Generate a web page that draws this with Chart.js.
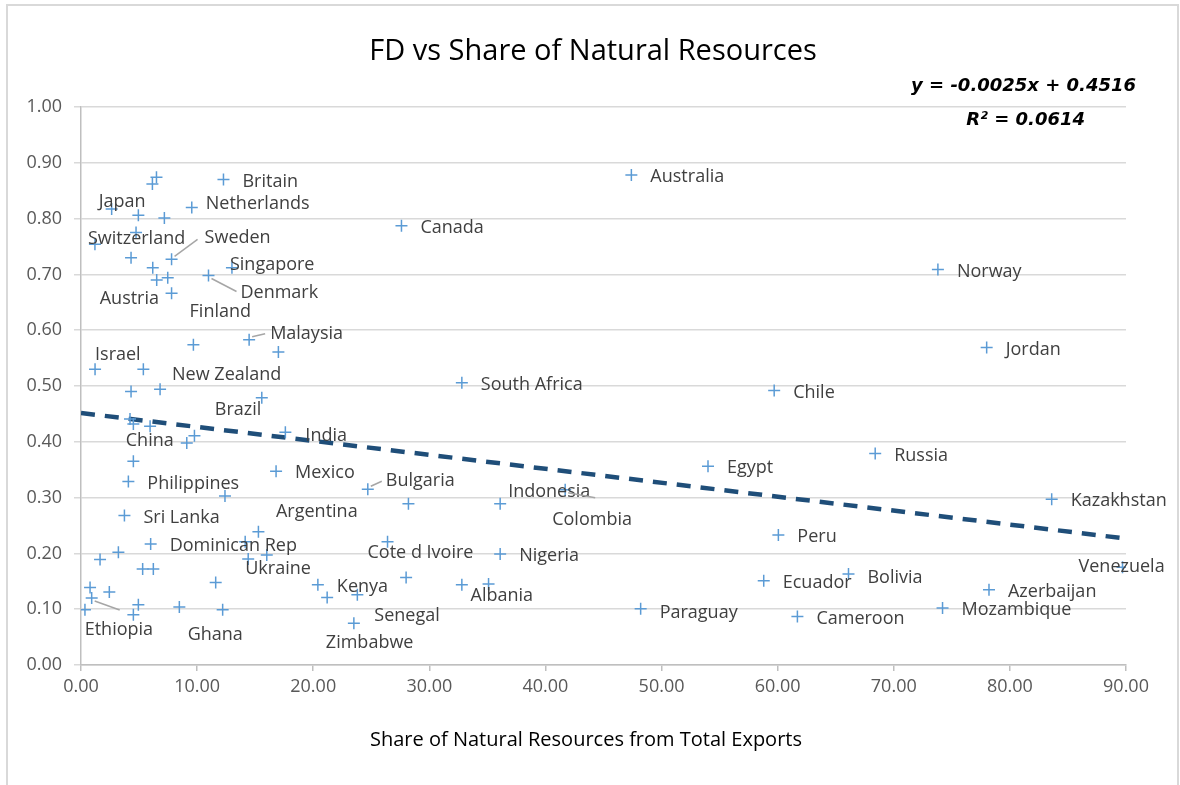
<!DOCTYPE html>
<html>
<head>
<meta charset="utf-8">
<script src="https://cdn.jsdelivr.net/npm/chart.js@4"></script>
<style>
  body { margin: 0; background: #fff; }
  #wrap { position: relative; width: 1180px; height: 785px; overflow: hidden; }
  #frame { position: absolute; left: 6px; top: 4px; width: 1169px; height: 820px;
           border: 2px solid #d9d9d9; pointer-events: none; }
</style>
</head>
<body>
<div id="wrap">
  <canvas id="fdChart" width="1180" height="785"></canvas>
  <div id="frame"></div>
</div>
<script>
// country labels ('' = unlabelled point)
const countries = [
  '', '', 'Britain', 'Japan', '', '', 'Netherlands', '', 'Switzerland', '',
  'Sweden', '', 'Singapore', 'Denmark', 'Austria', '', 'Finland', '', 'Malaysia', '',
  'Israel', '', '', 'New Zealand', 'Brazil', '', '', '', '', 'China',
  'India', '', 'Philippines', 'Mexico', 'Bulgaria', 'Argentina', 'Sri Lanka', '', '', 'Dominican Rep',
  '', '', '', 'Ukraine', '', '', '', '', '', 'Ethiopia',
  '', '', '', '', 'Ghana', 'Kenya', '', 'Senegal', 'Zimbabwe', '',
  'Indonesia', 'Colombia', 'Cote d Ivoire', 'Nigeria', '', '', 'Albania', 'Canada', 'Australia', 'South Africa',
  'Chile', 'Egypt', 'Russia', 'Peru', 'Ecuador', 'Bolivia', 'Cameroon', 'Mozambique', 'Azerbaijan', 'Norway',
  'Jordan', 'Kazakhstan', 'Venezuela', 'Paraguay'
];

// share of natural resources in total exports (%)
const resourceShare = [
  6.5, 6.15, 12.27, 2.64, 4.94, 7.18, 9.54, 4.74, 1.2, 4.31,
  7.8, 6.18, 13.0, 10.98, 6.52, 7.47, 7.8, 9.68, 14.48, 17.0,
  1.21, 5.37, 4.31, 6.81, 15.57, 4.22, 4.51, 5.95, 9.77, 9.11,
  17.6, 4.51, 4.08, 16.8, 24.7, 12.4, 3.74, 15.28, 14.14, 6.0,
  3.22, 1.64, 16.0, 14.4, 5.31, 6.23, 11.6, 0.78, 2.44, 0.92,
  4.94, 4.51, 0.34, 8.47, 12.2, 20.4, 21.2, 23.8, 23.5, 28.2,
  36.1, 41.7, 26.4, 36.1, 28.0, 32.8, 35.1, 27.6, 47.4, 32.8,
  59.7, 54.0, 68.4, 60.06, 58.8, 66.1, 61.7, 74.2, 78.2, 73.8,
  78.0, 83.6, 89.7, 48.2
];

// financial development index
const fdIndex = [
  0.874, 0.862, 0.870, 0.817, 0.806, 0.801, 0.820, 0.775, 0.754, 0.730,
  0.727, 0.712, 0.712, 0.698, 0.690, 0.694, 0.666, 0.574, 0.583, 0.561,
  0.530, 0.530, 0.490, 0.494, 0.479, 0.441, 0.432, 0.428, 0.411, 0.398,
  0.417, 0.365, 0.329, 0.347, 0.315, 0.303, 0.268, 0.239, 0.221, 0.217,
  0.202, 0.189, 0.197, 0.190, 0.172, 0.172, 0.148, 0.139, 0.131, 0.120,
  0.108, 0.090, 0.099, 0.104, 0.099, 0.144, 0.121, 0.126, 0.075, 0.289,
  0.289, 0.314, 0.221, 0.199, 0.157, 0.144, 0.145, 0.787, 0.878, 0.506,
  0.492, 0.356, 0.379, 0.233, 0.151, 0.163, 0.087, 0.102, 0.135, 0.709,
  0.569, 0.297, 0.175, 0.101
];

// linear trend end points (from the fitted equation shown)
const trendX = [0, 90];
const trendY = [0.4516, 0.2266];

const yTicks = [0, 0.1, 0.2, 0.3, 0.4, 0.5, 0.6, 0.7, 0.8, 0.9, 1.0];

// label placement tweaks [dx, dy, leaderEndDx, leaderEndDy]
const labelOffsets = {
  'Japan': [-13, -7], 'Netherlands': [14, -4], 'Switzerland': [-7, -5],
  'Sweden': [33, -21, 26, -20], 'Singapore': [-2, -3], 'Denmark': [32, 17, 28, 16],
  'Austria': [-57, 19], 'Finland': [18, 19], 'Malaysia': [21, -6, 16, -6],
  'Israel': [0, -14], 'New Zealand': [12, -14], 'Brazil': [-47, 12],
  'China': [-61, -2], 'India': [20, 4], 'Bulgaria': [18, -8, 14, -8],
  'Argentina': [51, 16], 'Ukraine': [-3, 10], 'Ethiopia': [-7, 32, 28, 12],
  'Ghana': [-35, 25], 'Senegal': [17, 21], 'Zimbabwe': [-28, 20],
  'Indonesia': [8, -12], 'Colombia': [-13, 30, 30, 8], 'Cote d Ivoire': [-20, 11],
  'Albania': [-18, 12], 'Venezuela': [-44, 0], 'Bolivia': [19, 4], 'Paraguay': [19, 4]
};

const points = resourceShare.map((x, i) => ({ x: x, y: fdIndex[i], name: countries[i] }));
const trend = trendX.map((x, i) => ({ x: x, y: trendY[i] }));

const textPlugin = {
  id: 'texts',
  afterDatasetsDraw(chart) {
    const ctx = chart.ctx;
    const meta = chart.getDatasetMeta(0);
    ctx.save();
    ctx.font = '18px "Open Sans"';
    ctx.fillStyle = '#404040';
    ctx.textBaseline = 'middle';
    ctx.textAlign = 'left';
    meta.data.forEach((el, i) => {
      const name = points[i].name;
      if (!name) return;
      const off = labelOffsets[name] || [19, 2];
      const lx = el.x + off[0], ly = el.y + off[1];
      if (off.length > 2) {
        ctx.strokeStyle = '#a6a6a6';
        ctx.lineWidth = 1.5;
        ctx.beginPath();
        ctx.moveTo(el.x + Math.sign(off[2]) * 3, el.y + Math.sign(off[3]) * 3);
        ctx.lineTo(el.x + off[2], el.y + off[3]);
        ctx.stroke();
      }
      ctx.fillText(name, lx, ly);
    });

    // title, axis title, equation
    ctx.fillStyle = '#000';
    ctx.textAlign = 'center';
    ctx.font = '29px "Open Sans"';
    ctx.fillText('FD vs Share of Natural Resources', 593, 52);
    ctx.font = '20px "Open Sans"';
    ctx.fillText('Share of Natural Resources from Total Exports', 586, 740);
    ctx.textAlign = 'right';
    ctx.font = 'italic bold 18px "DejaVu Sans"';
    ctx.fillText('y = -0.0025x + 0.4516', 1136, 86);
    ctx.fillText('R² = 0.0614', 1085, 120);
    ctx.restore();
  }
};

const ctx = document.getElementById('fdChart').getContext('2d');
const chart = new Chart(ctx, {
  type: 'scatter',
  data: {
    datasets: [
      {
        label: 'FD',
        data: points,
        pointStyle: 'cross',
        pointRadius: 6,
        pointBorderWidth: 1.5,
        borderColor: '#5b9bd5',
        backgroundColor: '#5b9bd5'
      },
      {
        label: 'Linear',
        type: 'line',
        data: trend,
        borderColor: '#1f4e79',
        borderWidth: 4.5,
        borderDash: [14, 10],
        pointRadius: 0,
        fill: false
      }
    ]
  },
  options: {
    responsive: false,
    animation: false,
    layout: { padding: { left: 0, top: 107, right: 54, bottom: 0 } },
    plugins: { legend: { display: false }, tooltip: { enabled: false } },
    scales: {
      x: {
        type: 'linear',
        min: 0,
        max: 90,
        afterFit(scale) { scale.height = 120; },
        border: { display: true, color: '#bfbfbf', width: 1.5 },
        grid: { drawOnChartArea: false, drawTicks: true, tickLength: 6, color: '#bfbfbf', lineWidth: 1.5 },
        ticks: {
          stepSize: 10,
          padding: 5,
          color: '#595959',
          font: { family: 'Open Sans', size: 18 },
          callback: v => v.toFixed(2)
        }
      },
      y: {
        min: 0,
        max: 1,
        afterFit(scale) { scale.width = 81; },
        afterBuildTicks(scale) { scale.ticks = yTicks.map(v => ({ value: v })); },
        border: { display: true, color: '#bfbfbf', width: 1.5 },
        grid: { color: '#d9d9d9', lineWidth: 1.5, tickLength: 7 },
        ticks: {
          padding: 12,
          color: '#595959',
          font: { family: 'Open Sans', size: 18 },
          callback: v => v.toFixed(2)
        }
      }
    }
  },
  plugins: [textPlugin]
});
</script>
</body>
</html>
